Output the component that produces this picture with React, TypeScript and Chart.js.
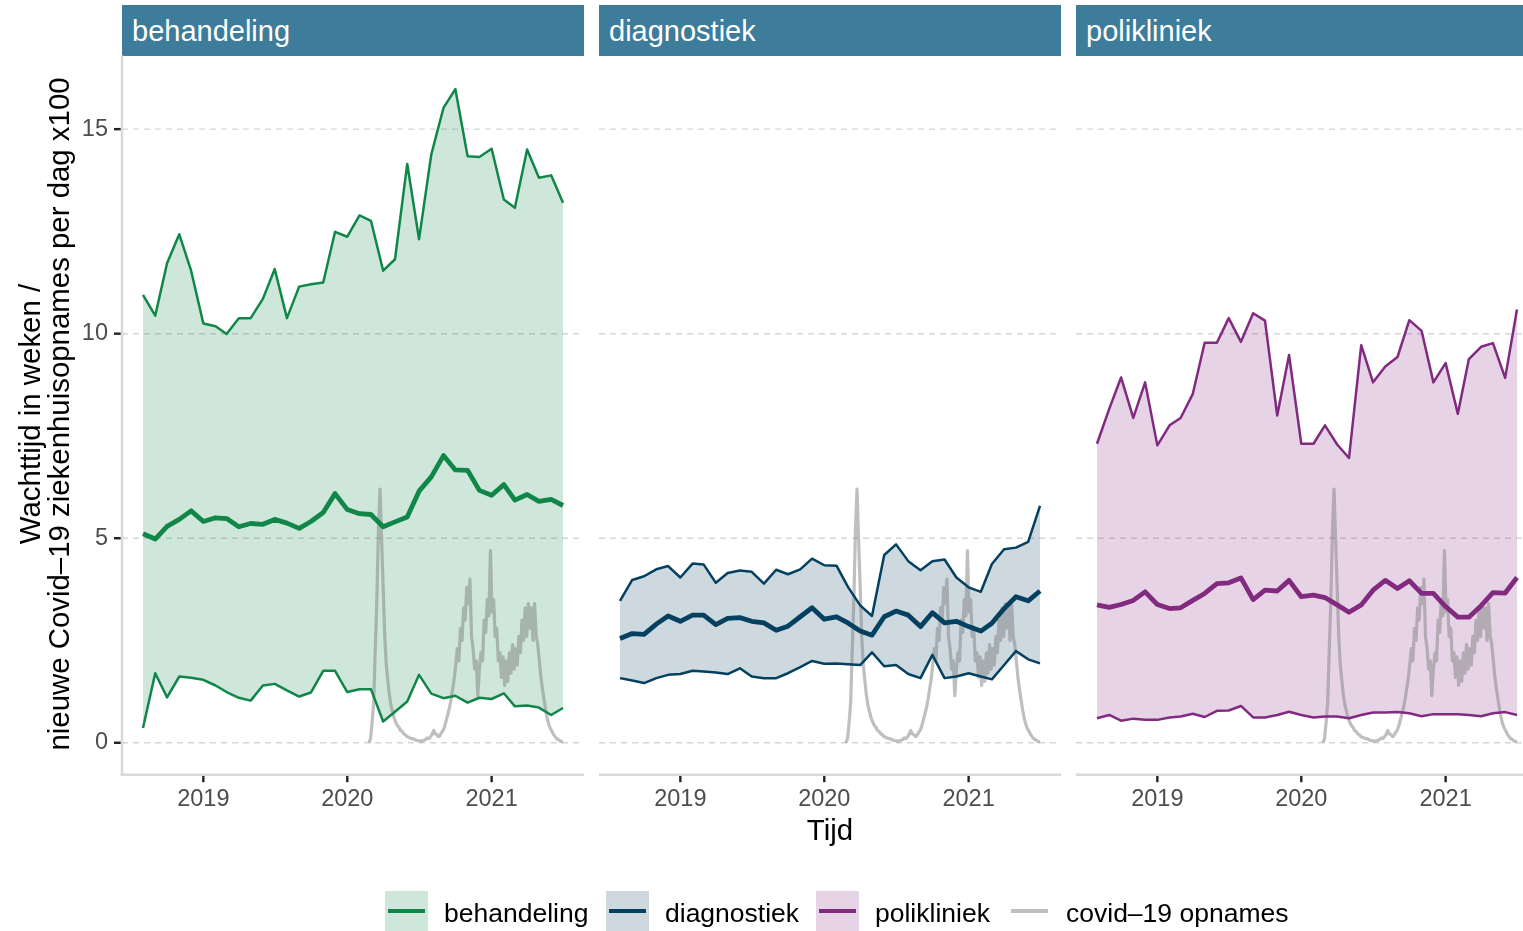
import React, { useEffect, useRef } from "react";
import { Chart, registerables } from "chart.js";

Chart.register(...registerables);

// ---------- data ----------
const months = [
  "2018-08", "2018-09", "2018-10", "2018-11", "2018-12",
  "2019-01", "2019-02", "2019-03", "2019-04", "2019-05", "2019-06",
  "2019-07", "2019-08", "2019-09", "2019-10", "2019-11", "2019-12",
  "2020-01", "2020-02", "2020-03", "2020-04", "2020-05", "2020-06",
  "2020-07", "2020-08", "2020-09", "2020-10", "2020-11", "2020-12",
  "2021-01", "2021-02", "2021-03", "2021-04", "2021-05", "2021-06",
  "2021-07",
];

const behUpper = [10.95, 10.44, 11.72, 12.43, 11.54, 10.25, 10.18, 9.99, 10.38, 10.38, 10.85, 11.58, 10.38, 11.15, 11.21, 11.25, 12.49, 12.37, 12.89, 12.76, 11.54, 11.82, 14.15, 12.31, 14.38, 15.52, 15.98, 14.34, 14.32, 14.52, 13.28, 13.08, 14.5, 13.81, 13.87, 13.2];
const behMedian = [5.11, 4.98, 5.29, 5.46, 5.67, 5.41, 5.5, 5.48, 5.28, 5.36, 5.34, 5.46, 5.37, 5.24, 5.41, 5.63, 6.09, 5.7, 5.6, 5.58, 5.28, 5.4, 5.52, 6.15, 6.5, 7.02, 6.67, 6.66, 6.17, 6.05, 6.31, 5.93, 6.07, 5.9, 5.95, 5.8];
const behLower = [0.36, 1.7, 1.11, 1.62, 1.59, 1.54, 1.4, 1.24, 1.1, 1.03, 1.4, 1.44, 1.28, 1.13, 1.23, 1.76, 1.76, 1.24, 1.31, 1.31, 0.52, 0.76, 1.01, 1.66, 1.2, 1.09, 1.15, 0.98, 1.1, 1.07, 1.21, 0.89, 0.91, 0.86, 0.68, 0.85];

const diagUpper = [3.47, 3.98, 4.07, 4.24, 4.32, 4.04, 4.38, 4.36, 3.91, 4.15, 4.21, 4.18, 3.89, 4.23, 4.12, 4.24, 4.5, 4.34, 4.33, 3.81, 3.36, 3.1, 4.59, 4.85, 4.44, 4.22, 4.44, 4.48, 4.04, 3.8, 3.69, 4.37, 4.73, 4.77, 4.91, 5.79];
const diagMedian = [2.55, 2.67, 2.65, 2.9, 3.1, 2.97, 3.12, 3.12, 2.89, 3.04, 3.06, 2.97, 2.93, 2.75, 2.85, 3.08, 3.3, 3.02, 3.08, 2.93, 2.73, 2.63, 3.08, 3.22, 3.12, 2.84, 3.18, 2.93, 2.97, 2.84, 2.73, 2.92, 3.28, 3.57, 3.47, 3.71];
const diagLower = [1.58, 1.52, 1.46, 1.58, 1.66, 1.68, 1.76, 1.74, 1.72, 1.68, 1.82, 1.62, 1.58, 1.58, 1.7, 1.85, 2.0, 1.93, 1.94, 1.92, 1.9, 2.21, 1.87, 1.9, 1.68, 1.58, 2.15, 1.58, 1.62, 1.7, 1.62, 1.55, 1.9, 2.24, 2.04, 1.94];

const poliUpper = [7.31, 8.16, 8.93, 7.94, 8.81, 7.27, 7.76, 7.94, 8.53, 9.78, 9.78, 10.38, 9.8, 10.5, 10.32, 8.0, 9.48, 7.31, 7.31, 7.76, 7.29, 6.96, 9.72, 8.81, 9.2, 9.43, 10.33, 10.07, 8.81, 9.28, 8.04, 9.38, 9.68, 9.77, 8.92, 10.59];
const poliMedian = [3.37, 3.31, 3.38, 3.48, 3.69, 3.38, 3.28, 3.3, 3.48, 3.65, 3.89, 3.91, 4.03, 3.5, 3.73, 3.71, 3.97, 3.57, 3.61, 3.55, 3.37, 3.19, 3.37, 3.73, 3.97, 3.77, 3.96, 3.65, 3.65, 3.33, 3.07, 3.07, 3.35, 3.67, 3.66, 4.04];
const poliLower = [0.6, 0.68, 0.54, 0.59, 0.56, 0.56, 0.62, 0.64, 0.71, 0.63, 0.78, 0.79, 0.9, 0.62, 0.62, 0.68, 0.76, 0.68, 0.62, 0.64, 0.64, 0.6, 0.68, 0.74, 0.74, 0.75, 0.72, 0.65, 0.7, 0.7, 0.7, 0.68, 0.65, 0.72, 0.75, 0.68];

// covid-19 admissions per day (x100), sampled every 4 days from 2020-02-25
const covidStart = "2020-02-25";
const covidStepDays = 4;
const covidValues = [
  0, 0.1, 0.5, 1.0, 2.3, 3.5, 5.2, 6.2, 5.0, 3.8, 2.6, 1.9, 1.5, 1.15, 0.9, 0.75,
  0.6, 0.5, 0.42, 0.38, 0.3, 0.28, 0.22, 0.2, 0.15, 0.14, 0.12, 0.1, 0.1, 0.08, 0.06, 0.05,
  0.05, 0.04, 0.05, 0.06, 0.08, 0.12, 0.1, 0.15, 0.2, 0.3, 0.22, 0.2, 0.15, 0.18, 0.25, 0.3,
  0.4, 0.55, 0.7, 0.85, 1.05, 1.3, 1.55, 1.9, 2.3, 2.0, 2.8, 2.5, 3.3, 3.0, 3.8, 3.4,
  4.0, 2.6, 2.3, 1.8, 2.0, 1.15, 1.8, 2.2, 2.0, 3.0, 2.7, 3.5, 3.1, 4.7, 3.2, 3.5,
  2.6, 2.8, 2.0, 2.2, 1.6, 2.1, 1.4, 2.0, 1.5, 2.2, 1.7, 2.4, 1.8, 2.3, 1.9, 2.6,
  2.2, 3.0, 2.5, 3.3, 2.6, 3.4, 2.8, 3.3, 2.5, 3.4, 2.6, 2.4, 2.0, 1.6, 1.3, 1.05,
  0.8, 0.6, 0.45, 0.35, 0.28, 0.2, 0.15, 0.1, 0.08, 0.05, 0.03, 0.02,
];

const yTickValues = [0, 5, 10, 15];
const xTickYears = [2019, 2020, 2021];
const facetNames = ["behandeling", "diagnostiek", "polikliniek"];
const legendLabels = ["behandeling", "diagnostiek", "polikliniek", "covid–19 opnames"];
const yTitleLines = ["Wachttijd in weken /", "nieuwe Covid–19 ziekenhuisopnames per dag x100"];
const xTitle = "Tijd";

// ---------- styling ----------
const FONT = '"Liberation Sans", Arial, Helvetica, sans-serif';
const COLORS = ["rgb(16,135,72)", "rgb(4,64,96)", "rgb(130,42,128)"];
const FILLS = ["rgba(16,135,72,0.2)", "rgba(4,64,96,0.2)", "rgba(130,42,128,0.2)"];
const COVID_COLOR = "rgba(128,128,128,0.5)";
const STRIP_COLOR = "#3E7C9B";

const W = 1523;
const H = 931;
const PANEL_W = 462;
const PANEL_LEFTS = [122, 599, 1076];
const PLOT_TOP = 55.5;
const PLOT_BOTTOM = 775.5;
const STRIP_TOP = 5;

const seriesByPanel = [
  { upper: behUpper, median: behMedian, lower: behLower },
  { upper: diagUpper, median: diagMedian, lower: diagLower },
  { upper: poliUpper, median: poliMedian, lower: poliLower },
];

function monthToMs(m: string) {
  const [y, mo] = m.split("-").map(Number);
  return Date.UTC(y, mo - 1, 1);
}

function Panel({ index }: { index: number }) {
  const ref = useRef<HTMLCanvasElement>(null);
  const showY = index === 0;
  const panelLeft = PANEL_LEFTS[index];
  const canvasLeft = showY ? 0 : panelLeft;
  const canvasW = showY ? panelLeft + PANEL_W : PANEL_W;

  useEffect(() => {
    if (!ref.current) return;
    const s = seriesByPanel[index];
    const monthX = months.map(monthToMs);
    const x0 = monthX[0];
    const x1 = monthX[monthX.length - 1];
    const pad = (x1 - x0) * 0.05;
    const covidStartMs = Date.parse(covidStart + "T00:00:00Z");
    const covidPts = covidValues.map((v, i) => ({ x: covidStartMs + i * covidStepDays * 86400000, y: v }));
    const toPts = (arr: number[]) => arr.map((v, i) => ({ x: monthX[i], y: v }));
    const xTicks = xTickYears.map((y) => Date.UTC(y, 0, 1));

    const decor = {
      id: "panelDecor",
      beforeDraw(chart: any) {
        const { ctx, chartArea: a, scales } = chart;
        ctx.save();
        ctx.strokeStyle = "#D6D6D6";
        ctx.lineWidth = 1.4;
        ctx.setLineDash([6, 5]);
        yTickValues.forEach((v) => {
          const y = scales.y.getPixelForValue(v);
          ctx.beginPath();
          ctx.moveTo(a.left, y);
          ctx.lineTo(a.right, y);
          ctx.stroke();
        });
        ctx.restore();
      },
      afterDraw(chart: any) {
        const { ctx, chartArea: a, scales } = chart;
        ctx.save();
        ctx.setLineDash([]);
        ctx.strokeStyle = "#D9D9D9";
        ctx.lineWidth = 2.6;
        const by = a.bottom - 0.8;
        ctx.beginPath();
        ctx.moveTo(showY ? a.left - 1.3 : a.left, by);
        ctx.lineTo(a.right, by);
        ctx.stroke();
        if (showY) {
          ctx.beginPath();
          ctx.moveTo(a.left, a.top);
          ctx.lineTo(a.left, by + 1.3);
          ctx.stroke();
        }
        ctx.strokeStyle = "#222";
        ctx.lineWidth = 2.4;
        xTicks.forEach((t) => {
          const x = scales.x.getPixelForValue(t);
          ctx.beginPath();
          ctx.moveTo(x, by + 1.3);
          ctx.lineTo(x, by + 7.5);
          ctx.stroke();
        });
        if (showY) {
          yTickValues.forEach((v) => {
            const y = scales.y.getPixelForValue(v);
            ctx.beginPath();
            ctx.moveTo(a.left - 1.3, y);
            ctx.lineTo(a.left - 8, y);
            ctx.stroke();
          });
        }
        ctx.restore();
      },
    };

    const chart = new Chart(ref.current, {
      type: "line",
      data: {
        datasets: [
          { label: "median", data: toPts(s.median), borderColor: COLORS[index], borderWidth: 4.8, pointRadius: 0, fill: false, borderJoinStyle: "round", tension: 0 },
          { label: "upper", data: toPts(s.upper), borderColor: COLORS[index], borderWidth: 2.5, pointRadius: 0, fill: 2, backgroundColor: FILLS[index], borderJoinStyle: "round", tension: 0 },
          { label: "lower", data: toPts(s.lower), borderColor: COLORS[index], borderWidth: 2.5, pointRadius: 0, fill: false, borderJoinStyle: "round", tension: 0 },
          { label: "covid", data: covidPts, borderColor: COVID_COLOR, borderWidth: 3.2, pointRadius: 0, fill: false, borderJoinStyle: "round", tension: 0 },
        ],
      },
      options: {
        animation: false,
        responsive: false,
        maintainAspectRatio: false,
        events: [],
        layout: { padding: { top: PLOT_TOP, left: 0, right: 0, bottom: 0 } },
        plugins: {
          legend: { display: false },
          tooltip: { enabled: false },
          filler: { drawTime: "beforeDatasetsDraw", propagate: false },
        },
        scales: {
          x: {
            type: "linear",
            min: x0 - pad,
            max: x1 + pad,
            grid: { display: false, drawTicks: false },
            border: { display: false },
            afterBuildTicks: (sc: any) => {
              sc.ticks = xTicks.map((v) => ({ value: v }));
            },
            afterFit: (sc: any) => {
              sc.height = H - PLOT_BOTTOM;
            },
            ticks: {
              autoSkip: false,
              maxRotation: 0,
              minRotation: 0,
              padding: 9.5,
              color: "#4D4D4D",
              font: { family: FONT, size: 23.5 },
              callback: (v: any) => String(new Date(Number(v)).getUTCFullYear()),
            },
          },
          y: {
            type: "linear",
            display: showY,
            min: -0.8,
            max: 16.8,
            grid: { display: false, drawTicks: false },
            border: { display: false },
            afterBuildTicks: (sc: any) => {
              sc.ticks = yTickValues.map((v) => ({ value: v }));
            },
            afterFit: (sc: any) => {
              sc.width = showY ? panelLeft : 0;
            },
            ticks: {
              padding: 14,
              color: "#4D4D4D",
              font: { family: FONT, size: 23.5 },
              callback: (v: any) => String(v),
            },
          },
        },
      } as any,
      plugins: [decor],
    });
    return () => chart.destroy();
  }, [index]);

  return (
    <canvas
      ref={ref}
      width={canvasW}
      height={H}
      style={{ position: "absolute", left: canvasLeft, top: 0, width: canvasW, height: H }}
    />
  );
}

export default function App() {
  const legendKeyLefts = [385, 606, 816, 1008];
  const legendTextLefts = [444, 665, 875, 1066];
  const legendLineColors = [...COLORS, COVID_COLOR];
  const legendFills = [...FILLS, "transparent"];
  return (
    <div
      style={{
        position: "fixed",
        left: 0,
        top: 0,
        width: W,
        height: H,
        overflow: "hidden",
        background: "#fff",
        fontFamily: FONT,
      }}
    >
      {facetNames.map((n, i) => (
        <div
          key={n}
          style={{
            position: "absolute",
            left: PANEL_LEFTS[i],
            top: STRIP_TOP,
            width: PANEL_W,
            height: PLOT_TOP - STRIP_TOP,
            background: STRIP_COLOR,
            color: "#fff",
            fontSize: 29,
            lineHeight: `${PLOT_TOP - STRIP_TOP + 3}px`,
            paddingLeft: 10,
            boxSizing: "border-box",
            whiteSpace: "nowrap",
            overflow: "hidden",
          }}
        >
          {n}
        </div>
      ))}
      {[0, 1, 2].map((i) => (
        <Panel key={i} index={i} />
      ))}
      {/* y-axis title */}
      <div
        style={{
          position: "absolute",
          left: 44 - 400,
          top: 413.5 - 29,
          width: 800,
          height: 58,
          transform: "rotate(-90deg)",
          transformOrigin: "50% 50%",
          textAlign: "center",
          fontSize: 29.4,
          lineHeight: "29px",
          color: "#000",
          whiteSpace: "nowrap",
        }}
      >
        {yTitleLines.map((l) => (
          <div key={l}>{l}</div>
        ))}
      </div>
      {/* x-axis title */}
      <div
        style={{
          position: "absolute",
          left: PANEL_LEFTS[1],
          top: 813,
          width: PANEL_W,
          textAlign: "center",
          fontSize: 29.4,
          lineHeight: "34px",
          color: "#000",
        }}
      >
        {xTitle}
      </div>
      {/* legend */}
      {legendLabels.map((l, i) => (
        <React.Fragment key={l}>
          <div
            style={{
              position: "absolute",
              left: legendKeyLefts[i],
              top: 891,
              width: 43,
              height: 40,
              background: legendFills[i],
            }}
          >
            <div
              style={{
                position: "absolute",
                left: 3,
                top: 20 - 2.2,
                width: 37,
                height: 4.4,
                background: legendLineColors[i],
              }}
            />
          </div>
          <div
            style={{
              position: "absolute",
              left: legendTextLefts[i],
              top: 896,
              fontSize: 26.5,
              lineHeight: "34px",
              color: "#000",
              whiteSpace: "nowrap",
            }}
          >
            {l}
          </div>
        </React.Fragment>
      ))}
    </div>
  );
}
